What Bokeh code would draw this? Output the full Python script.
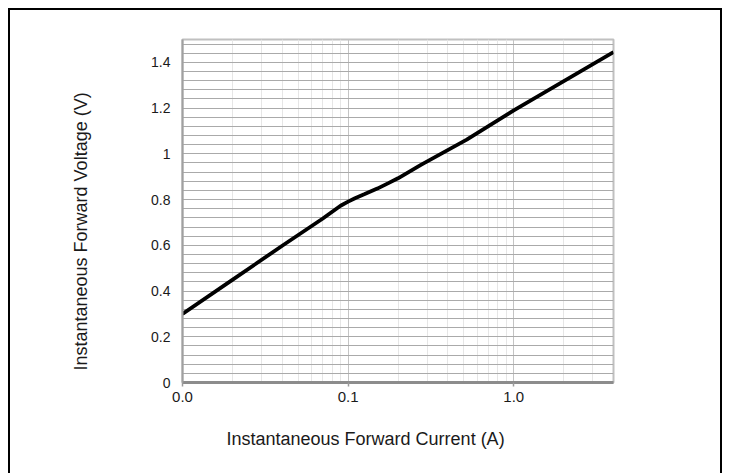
from bokeh.plotting import figure
from bokeh.models import FixedTicker, CustomJSTickFormatter, Title, Range1d
from bokeh.embed import file_html
from bokeh.resources import INLINE

# Data
current_a = [0.01, 0.02, 0.04, 0.07, 0.09, 0.1, 0.11, 0.125, 0.15, 0.175, 0.2, 0.275, 0.52, 1.0, 4.0]
voltage_v = [0.30, 0.449, 0.598, 0.716, 0.773, 0.791, 0.806, 0.823, 0.848, 0.872, 0.893, 0.952, 1.062, 1.19, 1.445]

x_major = [0.01, 0.1, 1.0]
x_minor = [m * d for d in (0.01, 0.1, 1.0) for m in range(2, 10) if m * d <= 4.0]
y_major = [0, 0.2, 0.4, 0.6, 0.8, 1, 1.2, 1.4]
y_minor = [round(i * 0.04, 2) for i in range(38)]

x_title = "Instantaneous Forward Current (A)"
y_title = "Instantaneous Forward Voltage (V)"

FONT = "Liberation Sans"

W, H = 714, 465
p = figure(width=W, height=H, x_axis_type="log",
           x_range=Range1d(0.01, 4.0), y_range=Range1d(0, 1.5),
           output_backend="svg", toolbar_location=None,
           min_border_left=168, min_border_right=111,
           min_border_top=29, min_border_bottom=93)
p.styles = {"border": "2px solid black", "border-bottom": "none",
            "margin": "8px 0 0 8px"}
p.background_fill_color = "white"
p.border_fill_color = "white"
p.outline_line_color = "#c0c0c0"
p.outline_line_width = 2

# grids
p.xgrid.ticker = FixedTicker(ticks=x_major, minor_ticks=x_minor)
p.xgrid.grid_line_color = "#c4c4c4"
p.xgrid.grid_line_width = 1
p.xgrid.minor_grid_line_color = "#e6e6e6"
p.xgrid.minor_grid_line_width = 1
p.ygrid.ticker = FixedTicker(ticks=y_minor)
p.ygrid.grid_line_color = "#aaaaaa"
p.ygrid.grid_line_width = 1

# x axis
xa = p.xaxis[0]
xa.ticker = FixedTicker(ticks=x_major, minor_ticks=[])
xa.formatter = CustomJSTickFormatter(code="return tick.toFixed(1);")
xa.axis_line_color = "#8c8c8c"
xa.axis_line_width = 3
xa.major_tick_line_color = "#9a9a9a"
xa.major_tick_line_width = 1.5
xa.major_tick_out = 4
xa.major_tick_in = 0
xa.minor_tick_line_color = None
xa.major_label_standoff = 5
xa.major_label_text_font = FONT
xa.major_label_text_font_size = "15px"
xa.major_label_text_color = "#1a1a1a"

# y axis
ya = p.yaxis[0]
ya.ticker = FixedTicker(ticks=y_major, minor_ticks=[])
ya.formatter = CustomJSTickFormatter(code="return tick.toString();")
ya.axis_line_color = "#a0a0a0"
ya.axis_line_width = 2
ya.major_tick_line_color = None
ya.minor_tick_line_color = None
ya.major_tick_out = 0
ya.major_tick_in = 0
ya.major_label_standoff = 12
ya.major_label_text_font = FONT
ya.major_label_text_font_size = "14px"
ya.major_label_text_color = "#1a1a1a"

p.line(current_a, voltage_v, line_color="black", line_width=3.8)

# axis titles
p.add_layout(Title(text=x_title, align="left", offset=44, standoff=44,
                   text_font=FONT, text_font_size="18px",
                   text_font_style="normal", text_color="#1a1a1a"), "below")
p.add_layout(Title(text=y_title, align="left", offset=12, standoff=116,
                   text_font=FONT, text_font_size="18px",
                   text_font_style="normal", text_color="#1a1a1a"), "left")

open("out.html", "w").write(file_html(p, INLINE))
